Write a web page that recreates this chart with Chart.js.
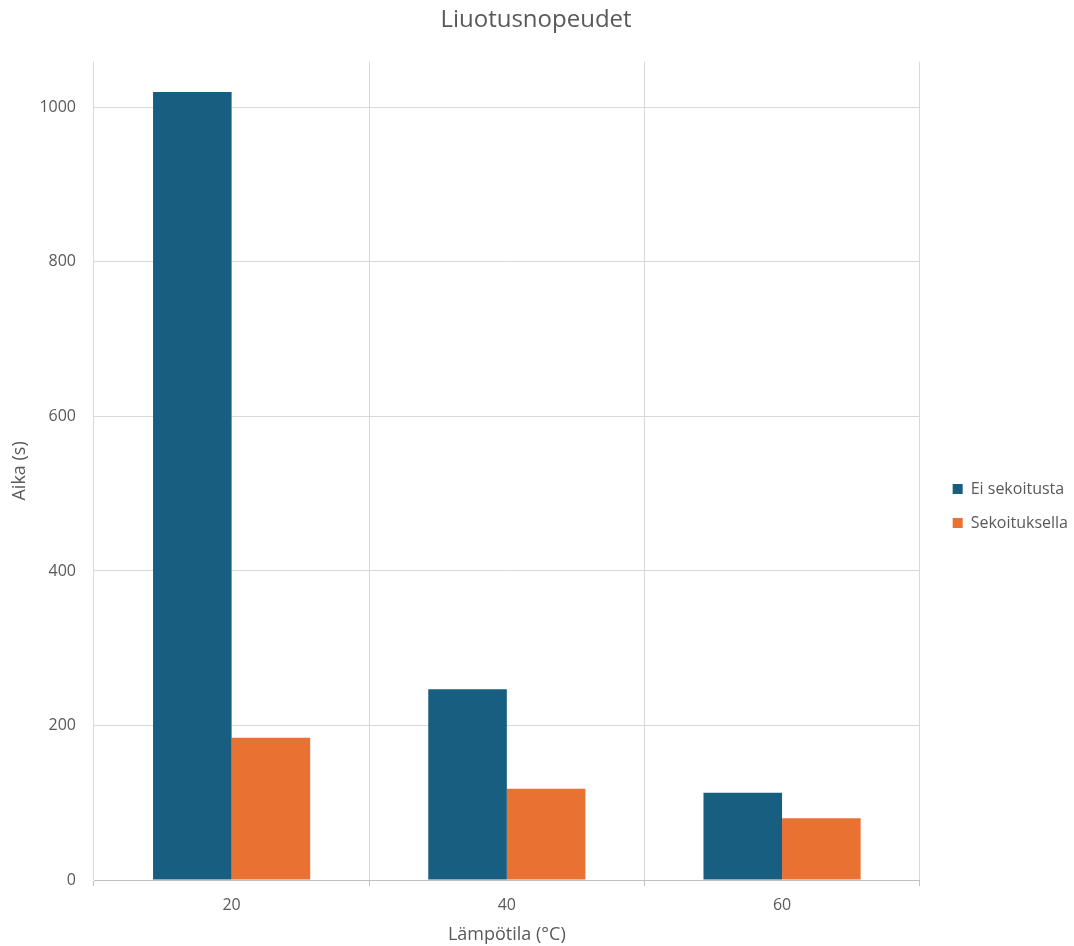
<!DOCTYPE html>
<html>
<head>
<meta charset="utf-8">
<script src="https://cdn.jsdelivr.net/npm/chart.js@4.4.1/dist/chart.umd.min.js"></script>
<style>
  html, body { margin: 0; padding: 0; background: #ffffff; }
  #wrap { width: 1074px; height: 946px; }
</style>
</head>
<body>
<div id="wrap"><canvas id="c" width="1074" height="946"></canvas></div>
<script>
// Dissolution times (s) at each temperature
const temperatures = ['20', '40', '60'];
const withoutStirring = [1020, 247, 113];
const withStirring = [184, 118, 80];
const seriesNames = ['Ei sekoitusta', 'Sekoituksella'];
const yTicks = [0, 200, 400, 600, 800, 1000];

const FONT = 'Open Sans, Lato, sans-serif';
const TEXT = '#595959';
const GRID = '#d9d9d9';

// Nudge the legend block sideways/down from where the layout placed it
const legendNudge = {
  id: 'legendNudge',
  afterLayout(chart) {
    const lg = chart.legend;
    if (!lg) return;
    const dx = chart.chartArea.right + 15 - lg.left;
    const dy = 31;
    lg.left += dx; lg.right += dx;
    lg.top += dy; lg.bottom += dy;
  }
};

new Chart(document.getElementById('c'), {
  type: 'bar',
  data: {
    labels: temperatures,
    datasets: [
      { label: seriesNames[0], data: withoutStirring, backgroundColor: '#175e80' },
      { label: seriesNames[1], data: withStirring, backgroundColor: '#e97132' }
    ]
  },
  plugins: [legendNudge],
  options: {
    responsive: false,
    animation: false,
    devicePixelRatio: 1,
    layout: { padding: { left: 9, right: 11, top: 4, bottom: 0 } },
    datasets: { bar: { categoryPercentage: 0.571, barPercentage: 1.0, borderWidth: 0 } },
    plugins: {
      title: {
        display: true,
        text: 'Liuotusnopeudet',
        color: TEXT,
        font: { family: FONT, size: 24, weight: 'normal' },
        padding: { top: 2, bottom: 27 }
      },
      legend: {
        position: 'right',
        align: 'center',
        labels: {
          color: TEXT,
          font: { family: FONT, size: 16 },
          boxWidth: 10,
          boxHeight: 10,
          padding: 18
        }
      },
      tooltip: { enabled: false }
    },
    scales: {
      x: {
        offset: true,
        grid: { offset: true, color: GRID, lineWidth: 1, drawTicks: true, tickLength: 6, tickColor: '#bfbfbf' },
        border: { color: '#bfbfbf' },
        ticks: { color: TEXT, font: { family: FONT, size: 16 }, padding: 10 },
        title: { display: true, text: 'Lämpötila (°C)', color: TEXT, font: { family: FONT, size: 18 }, padding: { top: 4, bottom: 0 } },
        afterFit(scale) { scale.height = 66; }
      },
      y: {
        min: 0,
        max: 1059,
        ticks: { color: TEXT, font: { family: FONT, size: 16 }, padding: 18, callback: v => String(v) },
        afterBuildTicks(scale) { scale.ticks = yTicks.map(v => ({ value: v })); },
        grid: { color: GRID, drawTicks: false },
        border: { display: false },
        title: { display: true, text: 'Aika (s)', color: TEXT, font: { family: FONT, size: 18 }, padding: { top: 0, bottom: 4 } },
        afterFit(scale) { scale.width = 85; }
      }
    }
  }
});
</script>
</body>
</html>
